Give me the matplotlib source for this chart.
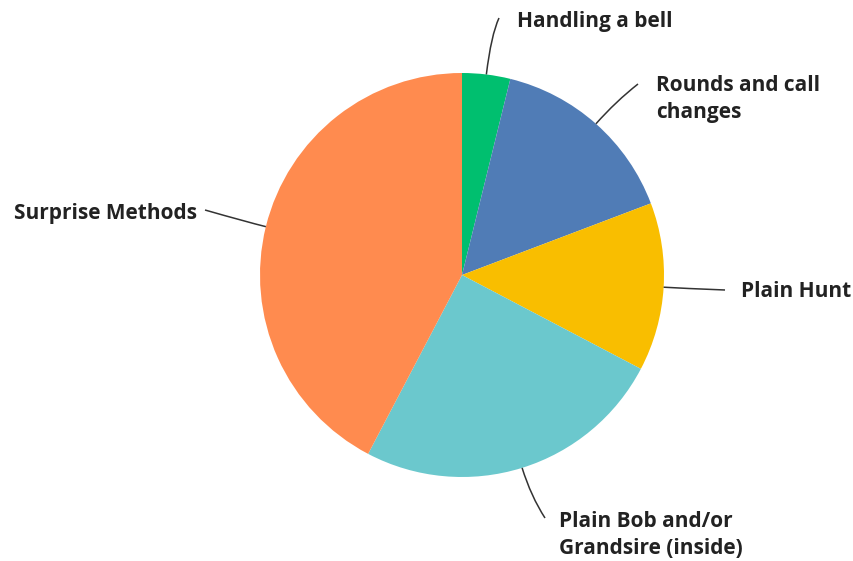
import numpy as np
import matplotlib
matplotlib.use("Agg")
import matplotlib.pyplot as plt
from matplotlib.path import Path
from matplotlib.patches import PathPatch

categories = ["Handling a bell", "Rounds and call\nchanges", "Plain Hunt",
              "Plain Bob and/or\nGrandsire (inside)", "Surprise Methods"]
values = [2, 8, 7, 13, 22]
colors = ["#00BF6F", "#507CB6", "#F9BE00", "#6BC8CD", "#FF8B4F"]

W, H = 854, 561
fig = plt.figure(figsize=(W / 100, H / 100), dpi=100)
ax = fig.add_axes([0, 0, 1, 1])
ax.set_xlim(0, W)
ax.set_ylim(0, H)
ax.set_aspect("equal")
ax.axis("off")

cx, cy, r = 462, H - 275, 202
ax.pie(values, colors=colors, startangle=90, counterclock=False,
       center=(cx, cy), radius=r, wedgeprops=dict(linewidth=0))
ax.set_xlim(0, W)
ax.set_ylim(0, H)

# label anchors (end of leader line) and text placement, in pixel coords from top
label_layout = [
    dict(end=(499, 18), ctrl_out=40, text=(517, 21), ha="left"),
    dict(end=(638, 84), ctrl_out=30, text=(656, 99), ha="left"),
    dict(end=(725, 290), ctrl_out=20, text=(741, 291), ha="left"),
    dict(end=(545, 518), ctrl_out=30, text=(559, 535), ha="left"),
    dict(end=(205, 210), ctrl_out=20, text=(197, 213), ha="right"),
]

total = sum(values)
cum = np.cumsum([0] + values)
font = dict(family=["Open Sans", "DejaVu Sans"], weight="bold",
            fontsize=15, color="#222222")
for i, lay in enumerate(label_layout):
    mid = (cum[i] + cum[i + 1]) / 2 / total * 2 * np.pi  # clockwise from top
    dx, dy = np.sin(mid), np.cos(mid)
    sx, sy = cx + r * dx, cy + r * dy
    kx, ky = cx + (r + lay["ctrl_out"]) * dx, cy + (r + lay["ctrl_out"]) * dy
    ex, ey = lay["end"][0], H - lay["end"][1]
    path = Path([(sx, sy), (kx, ky), (ex, ey)],
                [Path.MOVETO, Path.CURVE3, Path.CURVE3])
    ax.add_patch(PathPatch(path, fill=False, edgecolor="#333333", linewidth=1.1))
    tx, ty = lay["text"]
    ax.text(tx, H - ty, categories[i], ha=lay["ha"], va="center",
            linespacing=1.42, **font)

fig.savefig("out.png", dpi=100, facecolor="white")
